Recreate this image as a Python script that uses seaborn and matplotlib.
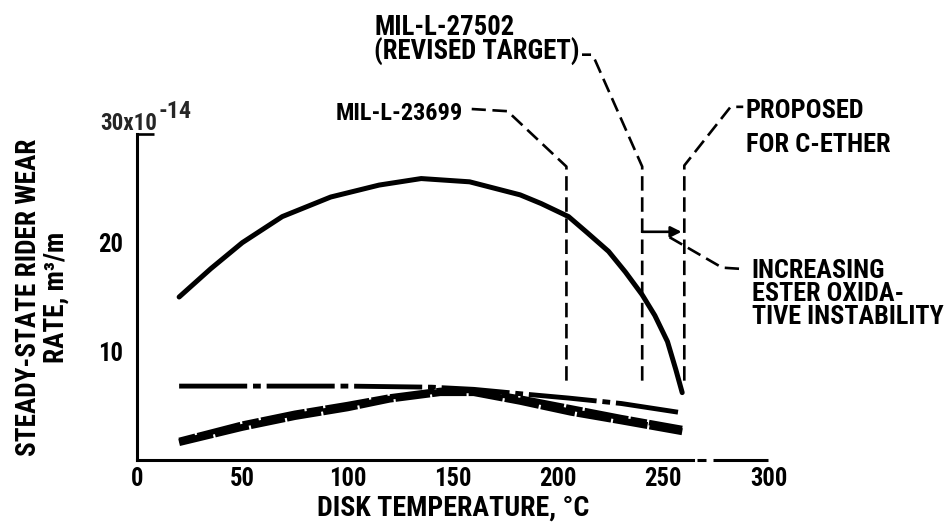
import matplotlib
matplotlib.use("Agg")
import matplotlib.pyplot as plt
import seaborn as sns
import pandas as pd

# ---------------- data ----------------
temp_solid = [20, 35, 50, 69, 92, 115, 135, 158, 182, 192, 205, 214, 224, 232, 240, 246, 252, 256, 259]
wear_solid = [15.0, 17.6, 20.0, 22.4, 24.2, 25.3, 25.9, 25.6, 24.4, 23.6, 22.4, 20.9, 19.2, 17.3, 15.2, 13.3, 10.9, 8.3, 6.2]

temp_dashdot = [20, 60, 100, 140, 160, 182, 205, 230, 257]
wear_dashdot = [6.8, 6.8, 6.8, 6.7, 6.5, 6.1, 5.7, 5.2, 4.4]

temp_band = [20, 50, 75, 100, 120, 144, 160, 182, 206, 230, 259]
wear_band_a = [1.6, 3.0, 4.0, 4.8, 5.6, 6.2, 6.2, 5.4, 4.4, 3.6, 2.6]
wear_band_b = [1.8, 3.3, 4.3, 5.1, 5.8, 6.4, 6.4, 5.7, 4.8, 3.9, 2.9]

spec_temps = [204, 240, 260]
spec_bottom = 7.3

x_ticks = [0, 50, 100, 150, 200, 250, 300]
x_ticklabels = ["0", "50", "100", "150", "200", "250", "300"]
y_ticks = [10, 20]
y_ticklabels = ["10", "20"]
y_top = 30
y_top_base = "30x10"
y_top_exp = "-14"

# ---------------- style ----------------
sns.set_theme(style="white")
plt.rcParams["font.family"] = ["Liberation Sans Narrow", "Roboto Condensed",
                               "DejaVu Sans Condensed", "DejaVu Sans"]
plt.rcParams["font.stretch"] = "condensed"
plt.rcParams["font.weight"] = "bold"

fig = plt.figure(figsize=(9.53, 5.28), dpi=100)
ax = fig.add_axes([0.1438, 0.1288, 0.6626, 0.6174])

df_solid = pd.DataFrame({"t": temp_solid, "w": wear_solid})
df_dd = pd.DataFrame({"t": temp_dashdot, "w": wear_dashdot})
df_a = pd.DataFrame({"t": temp_band, "w": wear_band_a})
df_b = pd.DataFrame({"t": temp_band, "w": wear_band_b})

sns.lineplot(data=df_solid, x="t", y="w", ax=ax, color="black",
             linewidth=3.6, solid_capstyle="round", solid_joinstyle="round")
sns.lineplot(data=df_dd, x="t", y="w", ax=ax, color="black",
             linewidth=3.5, linestyle=(0, (14, 1.2, 1.6, 1.2)))
sns.lineplot(data=df_a, x="t", y="w", ax=ax, color="black",
             linewidth=5.0, linestyle=(0, (5, 0.3)))
sns.lineplot(data=df_b, x="t", y="w", ax=ax, color="black",
             linewidth=4.0, linestyle=(0, (3, 0.4, 8, 0.4)))

ax.set_xlim(0, 300)
ax.set_ylim(0, 30)

# spines
for s in ["top", "right"]:
    ax.spines[s].set_visible(False)
for s in ["left", "bottom"]:
    ax.spines[s].set_linewidth(2.2)
    ax.spines[s].set_color("black")
ax.spines["bottom"].set_bounds(0, 264)
ax.plot([266, 270.5], [0, 0], color="black", lw=2.2, clip_on=False,
        solid_capstyle="butt")
ax.plot([273.5, 300], [0, 0], color="black", lw=2.2, clip_on=False,
        solid_capstyle="butt")

# ticks
ax.set_xticks(x_ticks)
ax.set_xticklabels(x_ticklabels)
ax.set_yticks(y_ticks)
ax.set_yticklabels(y_ticklabels)
ax.set_yticks([y_top], minor=True)
ax.tick_params(axis="both", which="major", direction="in", length=21,
               width=1.9, color="black", labelsize=19, labelcolor="black")
ax.tick_params(axis="x", which="major", pad=5)
ax.tick_params(axis="y", which="major", pad=10)
ax.tick_params(axis="y", which="minor", direction="in", length=12,
               width=1.9, color="black", left=True)
top_base = ax.annotate(y_top_base, xy=(0, y_top), xytext=(-37, 4),
                       textcoords="offset pixels", ha="left", va="baseline",
                       fontsize=17, fontweight="bold", annotation_clip=False)
top_exp = ax.annotate(y_top_exp, xy=(0, y_top), xytext=(21, 16),
                      textcoords="offset pixels", ha="left", va="baseline",
                      fontsize=12, fontweight="bold", annotation_clip=False)

# axis labels
ax.set_xlabel("DISK TEMPERATURE, °C", fontsize=20, fontweight="bold",
              color="black")
ax.xaxis.set_label_coords(0.5, -0.105)
ax.xaxis.label.set_va("top")
ax.set_ylabel("STEADY-STATE RIDER WEAR\nRATE, m³/m", fontsize=19,
              fontweight="bold", color="black", linespacing=1.0)
ax.yaxis.set_label_coords(-0.107, 0.5)

# specification lines with dashed leaders
dash = (0, (5.5, 2.5))
leaders = {
    204: [(204, spec_bottom), (204, 27.0), (176, 32.1), (159, 32.3)],
    240: [(240, spec_bottom), (240, 27.0), (217.6, 36.8), (216.2, 37.3), (211.4, 37.3)],
    260: [(260, spec_bottom), (260, 27.1), (282, 32.5), (288, 32.5)],
}
for t in spec_temps:
    xs, ys = zip(*leaders[t])
    ax.plot(xs, ys, color="black", lw=1.9, linestyle=dash, clip_on=False)

txt_kw = dict(fontsize=19.5, fontweight="bold", color="black", clip_on=False)
t1 = ax.text(112.6, 41.0, "MIL-L-27502\n(REVISED TARGET)", ha="left", va="top",
             linespacing=0.85, **txt_kw)
t2 = ax.text(155, 31.9, "MIL-L-23699", ha="right", va="center", **txt_kw)
t3 = ax.text(289.2, 33.2, "PROPOSED\nFOR C-ETHER", ha="left", va="top",
             linespacing=1.5, **txt_kw)

# bracket arrow between the 240 and 260 lines
ax.annotate("", xy=(260, 21.0), xytext=(240, 21.0),
            arrowprops=dict(arrowstyle="-|>", lw=1.9, color="black",
                            mutation_scale=16, shrinkA=0, shrinkB=2))
ax.plot([253, 278, 286], [20.5, 17.7, 17.6], color="black", lw=1.9,
        linestyle=dash, clip_on=False)
t4 = ax.text(292, 18.5, "INCREASING\nESTER OXIDA-\nTIVE INSTABILITY", ha="left",
             va="top", linespacing=0.95, **txt_kw)

# ---- fit text sizes to the widths seen in the reference ----
fig.canvas.draw()
r = fig.canvas.get_renderer()


def fit(t, target, vertical=False):
    bb = t.get_window_extent(r)
    w = bb.height if vertical else bb.width
    t.set_fontsize(t.get_fontsize() * target / w)


fit(t1, 206)
fit(t2, 128)
fit(t3, 145)
fit(t4, 193)
fit(top_base, 57)
fit(top_exp, 33)
fit(ax.xaxis.label, 272)
fit(ax.yaxis.label, 316, vertical=True)
lbl50 = ax.get_xticklabels()[1]
w50 = lbl50.get_window_extent(r).width
ax.tick_params(axis="both", which="major", labelsize=19 * 25 / w50)

fig.savefig("out.png", dpi=100, facecolor="white")
